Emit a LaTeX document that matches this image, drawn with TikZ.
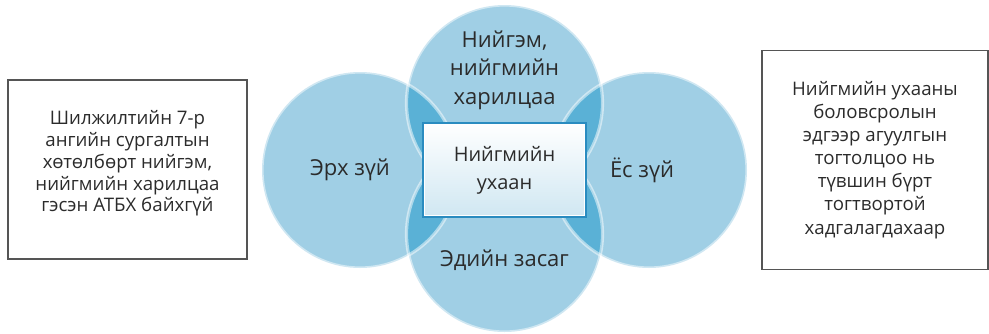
\documentclass[tikz,border=0pt]{standalone}
\usepackage{fontspec}
\setmainfont{Open Sans}
\usetikzlibrary{calc}
\usetikzlibrary{positioning}
\definecolor{circblue}{HTML}{A0CFE5}
\definecolor{deepblue}{HTML}{5AB1D6}
\definecolor{rimblue}{HTML}{2A8CC0}
\definecolor{inkgray}{HTML}{2B2B2B}
\tikzstyle{areanode} = [circle, fill=circblue, minimum size=196*0.75pt, inner sep=0]
\tikzstyle{rimline} = [draw=white, draw opacity=0.5, line width=2.4pt]
\tikzstyle{circtext} = [text=inkgray, align=center, font=\fontsize{16.5}{21.5}\selectfont]
\tikzstyle{notebox} = [draw=inkgray!80, line width=1.1pt, text=inkgray, align=center, font=\fontsize{14}{16.3}\selectfont]
\tikzstyle{corenode} = [draw=rimblue, line width=1.4pt, top color=white, bottom color=circblue!50, text=inkgray, align=center, minimum width=163*0.75pt, minimum height=94*0.75pt, font=\fontsize{15}{21}\selectfont]

\begin{document}
\begin{tikzpicture}[x=0.75pt, y=-0.75pt]
\useasboundingbox (0,0) rectangle (989,333);

\node[areanode] (top) at (504.5,103) {};
\node[areanode] (bot) at (504.5,234) {};
\node[areanode] (lft) at (360,170) {};
\node[areanode] (rgt) at (649,170) {};

% darker overlaps
\foreach \a in {top,bot}{
  \foreach \b in {lft,rgt}{
    \begin{scope}
      \clip (\a) circle[radius=98];
      \fill[deepblue] (\b) circle[radius=98];
    \end{scope}
  }
}
\foreach \c in {top,bot,lft,rgt}
  \draw[rimline] (\c) circle[radius=98];

\node[corenode] (core) at (504.5,170) {Нийгмийн\\ухаан};
\draw[white, line width=0.8pt] ($(core.north west)+(2.5,2.5)$) rectangle ($(core.south east)+(-2.5,-2.5)$);

\node[circtext] (toptext) at ($(top)+(0,-33)$) {Нийгэм,\\нийгмийн\\харилцаа};
\node[circtext] (bottext) at ($(bot)+(0,26)$) {Эдийн засаг};
\node[circtext] (lfttext) at ($(lft)+(-10,0)$) {Эрх зүй};
\node[circtext] (rgttext) at ($(rgt)+(-7,0)$) {Ёс зүй};

\node[notebox, minimum width=239*0.75pt, minimum height=179*0.75pt] (gap) at (127.5,169.5) {};
\node[text=inkgray, align=center, font=\fontsize{14}{16.3}\selectfont] (gaptext) at ($(gap)+(0,-6)$)
  {Шилжилтийн 7-р\\ангийн сургалтын\\хөтөлбөрт нийгэм,\\нийгмийн харилцаа\\гэсэн АТБХ байхгүй};
\node[notebox, minimum width=226*0.75pt, minimum height=219*0.75pt, font=\fontsize{14}{17.3}\selectfont] (goal) at (875,160)
  {Нийгмийн ухааны\\боловсролын\\эдгээр агуулгын\\тогтолцоо нь\\түвшин бүрт\\тогтвортой\\хадгалагдахаар};
\end{tikzpicture}
\end{document}
